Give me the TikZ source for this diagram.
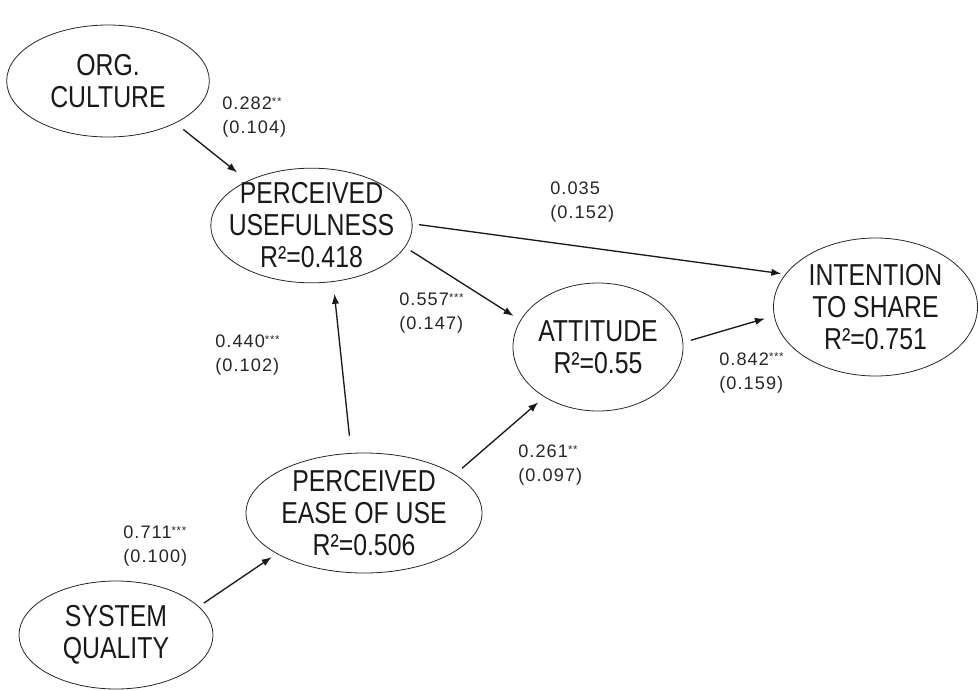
\documentclass[tikz,border=0pt]{standalone}
\usepackage{fontspec}
\setmainfont{Liberation Sans}
\newfontfamily\lvfont{Liberation Sans}[FakeStretch=0.82]
\newfontfamily\coeffont{Liberation Sans}[LetterSpace=6]
\usetikzlibrary{shapes.geometric,arrows.meta}
\newcommand{\sig}[1]{\raisebox{3.5pt}{\fontsize{8.5pt}{8.5pt}\selectfont #1}}
\tikzset{
  latent/.style={ellipse, draw=black!85, line width=0.6pt, inner sep=0pt},
  lvtext/.style={align=center, inner sep=0pt, text=black!90, font=\lvfont\fontsize{22.7pt}{24pt}\selectfont},
  coef/.style={align=left, anchor=west, inner sep=0pt, text=black!85, font=\coeffont\fontsize{13.6pt}{18pt}\selectfont},
  arrow/.style={-{Latex[length=7.5pt,width=5.5pt]}, line width=1pt, black!90}
}
\begin{document}
\begin{tikzpicture}[x=0.75pt,y=-0.75pt]
\useasboundingbox (0,0) rectangle (978,690);
% constructs
\node[latent, minimum width=152pt, minimum height=84pt] (org) at (108,81) {};
\node[latent, minimum width=151pt, minimum height=86pt] (pu) at (311.5,225.5) {};
\node[latent, minimum width=127.5pt, minimum height=96pt] (att) at (598,347) {};
\node[latent, minimum width=153pt, minimum height=103.5pt] (int) at (875.5,307) {};
\node[latent, minimum width=177pt, minimum height=90pt] (peou) at (364,513) {};
\node[latent, minimum width=145.5pt, minimum height=81pt] (sq) at (116,635) {};
\node[lvtext] (org-t) at (org) {ORG.\\CULTURE};
\node[lvtext] (pu-t) at (pu) {PERCEIVED\\USEFULNESS\\R²=0.418};
\node[lvtext] (att-t) at (att) {ATTITUDE\\R²=0.55};
\node[lvtext] (int-t) at (int) {INTENTION\\TO SHARE\\R²=0.751};
\node[lvtext] (peou-t) at (peou) {PERCEIVED\\EASE OF USE\\R²=0.506};
\node[lvtext] (sq-t) at (sq) {SYSTEM\\QUALITY};
% paths
\draw[arrow, shorten <=7.5pt, shorten >=10pt] (org.-32) -- (pu.145);
\draw[arrow, shorten <=5pt, shorten >=3pt] (pu.1) -- (int.160);
\draw[arrow, shorten <=5pt, shorten >=6pt] (pu.-13) -- (att.161);
\draw[arrow, shorten <=6pt, shorten >=7pt] (att.3) -- (int.185);
\draw[arrow, shorten <=13pt, shorten >=9pt] (peou.102) -- (pu.-69);
\draw[arrow, shorten <=7pt, shorten >=6pt] (peou.23) -- (att.223);
\draw[arrow, shorten <=4.5pt, shorten >=4.5pt] (sq.19) -- (peou.205);
% coefficients
\node[coef] (c-oc) at (222,117.5) {0.282\sig{**}\\(0.104)};
\node[coef] (c-pi) at (550,202.5) {0.035\\(0.152)};
\node[coef] (c-pa) at (399,313.5) {0.557\sig{***}\\(0.147)};
\node[coef] (c-ai) at (719,373) {0.842\sig{***}\\(0.159)};
\node[coef] (c-ep) at (215,355.5) {0.440\sig{***}\\(0.102)};
\node[coef] (c-ea) at (518,465.5) {0.261\sig{**}\\(0.097)};
\node[coef] (c-sq) at (123,546.5) {0.711\sig{***}\\(0.100)};
\end{tikzpicture}
\end{document}
